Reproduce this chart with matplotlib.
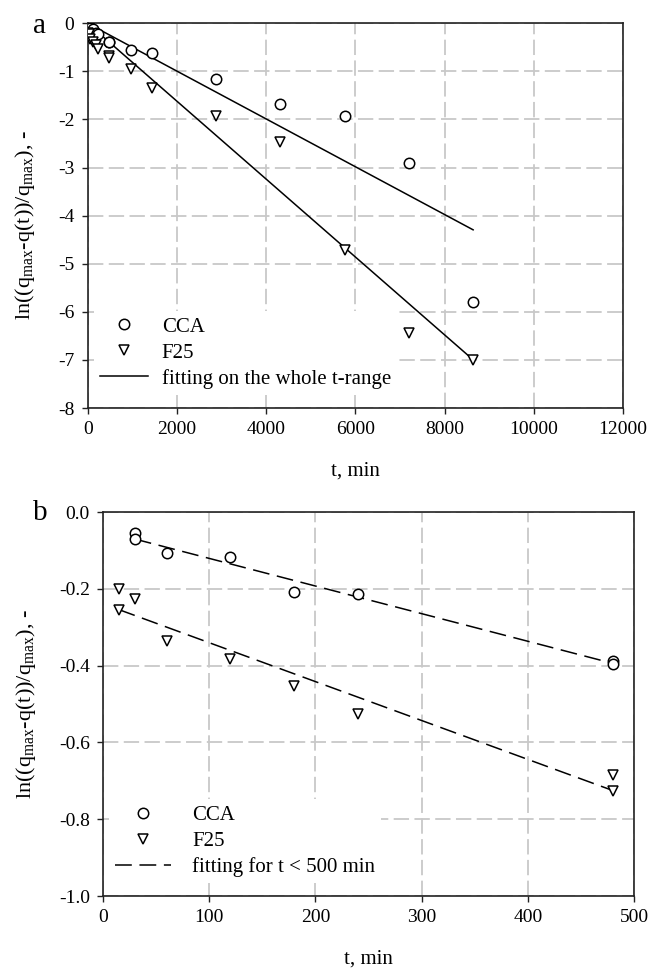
import numpy as np
import matplotlib
matplotlib.use("Agg")
import matplotlib.pyplot as plt
from matplotlib.lines import Line2D

plt.rcParams['font.family'] = ['Liberation Serif', 'DejaVu Serif']
plt.rcParams['mathtext.fontset'] = 'custom'
plt.rcParams['mathtext.rm'] = 'Liberation Serif'
plt.rcParams['axes.unicode_minus'] = False

# measured data, t in min, value = ln((qmax-q(t))/qmax)
t_cca = np.array([30, 30, 60, 120, 180, 240, 480, 480, 960, 1440, 2880, 4320, 5760, 7200, 8640])
ln_cca = np.array([-0.055, -0.07, -0.106, -0.118, -0.209, -0.214, -0.389, -0.395,
                   -0.556, -0.61, -1.15, -1.67, -1.93, -2.90, -5.80])
t_f25 = np.array([15, 15, 30, 60, 120, 180, 240, 480, 480, 960, 1440, 2880, 4320, 5760, 7200, 8640])
ln_f25 = np.array([-0.20, -0.256, -0.227, -0.335, -0.383, -0.454, -0.527, -0.684, -0.726,
                   -0.96, -1.35, -1.93, -2.47, -4.72, -6.43, -7.00])

xticks_a = [0, 2000, 4000, 6000, 8000, 10000, 12000]
yticks_a = [0, -1, -2, -3, -4, -5, -6, -7, -8]
xticks_b = [0, 100, 200, 300, 400, 500]
yticks_b = [0.0, -0.2, -0.4, -0.6, -0.8, -1.0]
t_short = 500

ylab = r'ln((q$_{\mathrm{max}}$-q(t))/q$_{\mathrm{max}}$), -'
FS = 14
mk = dict(ls='none', mfc='white', mec='black', mew=1.1, ms=7.5)
fit_dash = (11, 5)


def style(ax):
    ax.grid(True, color='#c8c8c8', lw=1.3, dashes=(8.5, 3))
    ax.set_axisbelow(True)
    for s in ax.spines.values():
        s.set_color('#222222')
        s.set_linewidth(1.2)
    ax.tick_params(direction='out', length=4.5, width=1.0, colors='#222222',
                   labelsize=FS, labelcolor='black', pad=5)


def add_legend(ax, handles, labels, anchor, hl, pad):
    ax.legend(handles, labels, loc='lower left', bbox_to_anchor=anchor,
              fontsize=15, frameon=True, facecolor='white', edgecolor='none', framealpha=1,
              handlelength=hl, handletextpad=pad, labelspacing=0.3, numpoints=1,
              borderpad=0.3, borderaxespad=0, fancybox=False)


fig = plt.figure(figsize=(6.51, 9.71), dpi=100)

# ---- panel a: whole t-range, fit forced through the origin
ax1 = fig.add_axes([0.1347, 0.5798, 0.8223, 0.3962])
style(ax1)
k_cca = np.sum(t_cca * ln_cca) / np.sum(t_cca ** 2)
k_f25 = np.sum(t_f25 * ln_f25) / np.sum(t_f25 ** 2)
tl = np.array([0, t_cca.max()])
ax1.plot(tl, k_cca * tl, color='black', lw=1.1, zorder=3)
ax1.plot(tl, k_f25 * tl, color='black', lw=1.1, zorder=3)
ax1.plot(t_cca, ln_cca, marker='o', zorder=4, **mk)
ax1.plot(t_f25, ln_f25, marker='v', zorder=4, **mk)
ax1.set_xlim(0, 12000)
ax1.set_ylim(-8, 0)
ax1.set_xticks(xticks_a)
ax1.set_yticks(yticks_a)
ax1.set_xlabel('t, min', fontsize=15)
ax1.set_ylabel(ylab, fontsize=16)
ax1.xaxis.set_label_coords(0.5, -0.14)
ax1.yaxis.set_label_coords(-0.095, 0.475)
h1 = [Line2D([], [], marker='o', **mk), Line2D([], [], marker='v', **mk),
      Line2D([], [], color='black', lw=1.1)]
add_legend(ax1, h1, ['CCA', 'F25', 'fitting on the whole t-range'], (0.011, 0.034), 2.3, 0.67)

# ---- panel b: t < 500 min, ordinary linear fit
ax2 = fig.add_axes([0.1582, 0.0772, 0.8157, 0.3955])
style(ax2)
for t, v in ((t_cca, ln_cca), (t_f25, ln_f25)):
    m = t < t_short
    p = np.polyfit(t[m], v[m], 1)
    tt = np.array([t[m].min(), t[m].max()])
    ax2.plot(tt, np.polyval(p, tt), color='black', lw=1.1, dashes=fit_dash, zorder=3)
m = t_cca < t_short
ax2.plot(t_cca[m], ln_cca[m], marker='o', zorder=4, **mk)
m = t_f25 < t_short
ax2.plot(t_f25[m], ln_f25[m], marker='v', zorder=4, **mk)
ax2.set_xlim(0, 500)
ax2.set_ylim(-1.0, 0.0)
ax2.set_xticks(xticks_b)
ax2.set_yticks(yticks_b)
ax2.set_yticklabels([f'{v:.1f}' for v in yticks_b])
ax2.set_xlabel('t, min', fontsize=15)
ax2.set_ylabel(ylab, fontsize=16)
ax2.xaxis.set_label_coords(0.5, -0.14)
ax2.yaxis.set_label_coords(-0.122, 0.5)
h2 = [Line2D([], [], marker='o', **mk), Line2D([], [], marker='v', **mk),
      Line2D([], [], color='black', lw=1.1, dashes=fit_dash)]
add_legend(ax2, h2, ['CCA', 'F25', 'fitting for t < 500 min'], (0.011, 0.033), 2.7, 1.0)

fig.text(39 / 651, 1 - 33 / 971, 'a', fontsize=21, ha='center', va='baseline')
fig.text(40 / 651, 1 - 520 / 971, 'b', fontsize=21, ha='center', va='baseline')

fig.savefig('out.png', dpi=100)
